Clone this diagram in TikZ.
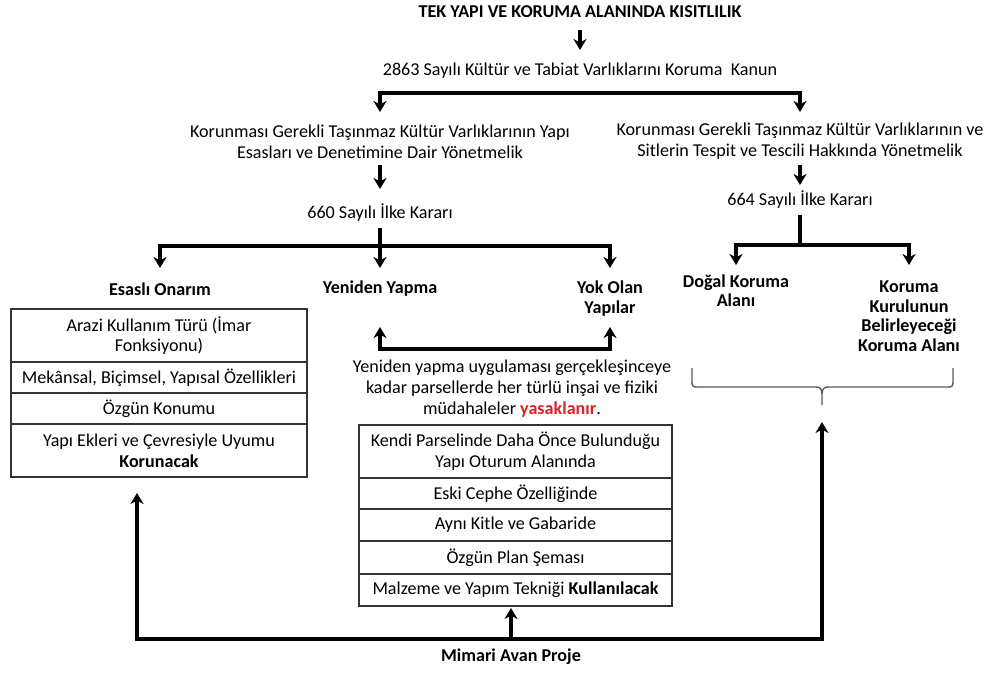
\documentclass[tikz,border=0pt]{standalone}
\usepackage{fontspec}
\setmainfont{Carlito}
\usetikzlibrary{arrows.meta,calc}
\definecolor{redtxt}{RGB}{215,35,40}
\begin{document}
\begin{tikzpicture}[x=1pt,y=-1pt,
  txt/.style={font=\fontsize{18.1}{20.8}\selectfont, align=center, inner sep=0pt},
  btxt/.style={font=\fontsize{18.1}{19.5}\selectfont\bfseries, align=center, inner sep=0pt},
  arr/.style={line width=3.2pt, -{Stealth[length=11pt,width=13pt,inset=3.5pt]}},
  ln/.style={line width=3.2pt},
  cellbox/.style={draw=black!80, line width=1.5pt, outer sep=0pt, inner sep=0pt,
    align=center, anchor=north west, font=\fontsize{18.1}{20.8}\selectfont},
  cellL/.style={cellbox, minimum width=296pt},
  cellM/.style={cellbox, minimum width=313pt},
  bracel/.style={draw=black!65, line width=1.4pt}
]
\useasboundingbox (0,0) rectangle (992,673);

% texts
\node[btxt] (title) at (580,12) {TEK YAPI VE KORUMA ALANINDA KISITLILIK};
\node[txt] (law) at (580,71) {2863 Sayılı Kültür ve Tabiat Varlıklarını Koruma\ \ Kanun};
\node[txt] (reg1) at (380,141.5) {Korunması Gerekli Taşınmaz Kültür Varlıklarının Yapı\\Esasları ve Denetimine Dair Yönetmelik};
\node[txt] (reg2) at (800,141.5) {Korunması Gerekli Taşınmaz Kültür Varlıklarının ve\\Sitlerin Tespit ve Tescili Hakkında Yönetmelik};
\node[txt] (k660) at (380,213) {660 Sayılı İlke Kararı};
\node[txt] (k664) at (800,200) {664 Sayılı İlke Kararı};
\node[btxt] (eo) at (160,289) {Esaslı Onarım};
\node[btxt] (yy) at (380,289) {Yeniden Yapma};
\node[btxt] (yok) at (610,298.5) {Yok Olan\\Yapılar};
\node[btxt] (dk) at (736,290.5) {Doğal Koruma\\Alanı};
\node[btxt] (kk) at (909,316) {Koruma\\Kurulunun\\Belirleyeceği\\Koruma Alanı};
\node[txt] (ban) at (512,388.5) {Yeniden yapma uygulaması gerçekleşinceye\\kadar parsellerde her türlü inşai ve fiziki\\müdahaleler \textcolor{redtxt}{\textbf{yasaklanır}}.};
\node[btxt] (mim) at (511,657) {Mimari Avan Proje};

% left table
\node[cellL, minimum height=53pt] (l1) at (11,309) {Arazi Kullanım Türü (İmar\\Fonksiyonu)};
\node[cellL, minimum height=31pt] (l2) at (l1.south west) {Mekânsal, Biçimsel, Yapısal Özellikleri};
\node[cellL, minimum height=31pt] (l3) at (l2.south west) {Özgün Konumu};
\node[cellL, minimum height=53pt] (l4) at (l3.south west) {Yapı Ekleri ve Çevresiyle Uyumu\\\textbf{Korunacak}};

% middle table
\node[cellM, minimum height=53pt] (m1) at (359,425) {Kendi Parselinde Daha Önce Bulunduğu\\Yapı Oturum Alanında};
\node[cellM, minimum height=31pt] (m2) at (m1.south west) {Eski Cephe Özelliğinde};
\node[cellM, minimum height=32pt] (m3) at (m2.south west) {Aynı Kitle ve Gabaride};
\node[cellM, minimum height=33pt] (m4) at (m3.south west) {Özgün Plan Şeması};
\node[cellM, minimum height=32pt] (m5) at (m4.south west) {Malzeme ve Yapım Tekniği \textbf{Kullanılacak}};

% junction coordinates
\coordinate (j1) at (580,93);
\coordinate (j2) at (380,246);
\coordinate (j3) at (495,349);
\coordinate (j4) at (800,245);
\coordinate (j5) at (511,639);
\coordinate (tl) at (137,493);
\coordinate (tr) at (822,422);
\coordinate (bt) at (822,405);

% connectors
\draw[arr] ([yshift=-18pt]title.center) -- ([yshift=21pt]law.center);
\draw[arr] (j1) -| ([yshift=29.5pt]reg1.center);
\draw[arr] (j1) -| ([yshift=29.5pt]reg2.center);
\draw[arr] ([yshift=-23.5pt]reg1.center) -- ([yshift=24pt]k660.center);
\draw[arr] ([yshift=-23pt]reg2.center) -- ([yshift=15pt]k664.center);
\draw[arr] ([yshift=-15pt]k660.center) -- ([yshift=21pt]yy.center);
\draw[arr] (j2) -| ([yshift=21pt]eo.center);
\draw[arr] (j2) -| ([yshift=30.5pt]yok.center);
\draw[arr] (j3) -| ([yshift=-38pt]yy.center);
\draw[arr] (j3) -| ([yshift=-28.5pt]yok.center);
\draw[ln] ([yshift=-15pt]k664.center) -- (j4);
\draw[arr] (j4) -| ([yshift=25.5pt]dk.center);
\draw[arr] (j4) -| ([yshift=51pt]kk.center);
\draw[arr, shorten >=2pt] (j5) -- (j5 |- m5.south);
\draw[arr] (j5) -| (tl);
\draw[arr] (j5) -| (tr);

% brace
\draw[bracel] (692,368) -- (692,382) .. controls (692,386) and (693,387) .. (697,387)
  -- (816,387) .. controls (820,387) and (822,389) .. (822,394) -- (bt) -- (822,394)
  .. controls (822,389) and (824,387) .. (828,387) -- (948,387)
  .. controls (952,387) and (953,386) .. (953,382) -- (953,368);
\end{tikzpicture}
\end{document}
